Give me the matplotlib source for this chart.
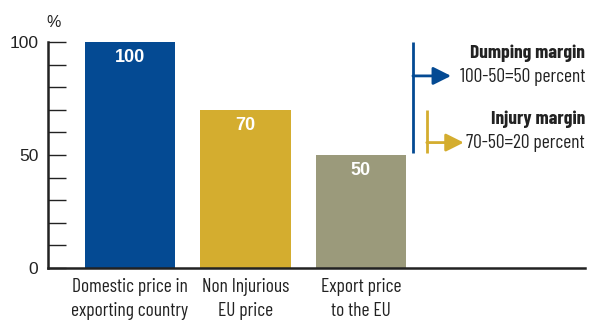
import matplotlib
matplotlib.use("Agg")
import matplotlib.pyplot as plt
from matplotlib.ticker import MultipleLocator

categories = ["Domestic price in\nexporting country", "Non Injurious\nEU price", "Export price\nto the EU"]
values = [100, 70, 50]
bar_labels = ["100", "70", "50"]
colors = ["#044a93", "#d4ad2f", "#9b9a7b"]
yticks = [0, 50, 100]
dumping_title = "Dumping margin"
dumping_text = "100-50=50 percent"
injury_title = "Injury margin"
injury_text = "70-50=20 percent"

narrow = ["Barlow Condensed", "Roboto Condensed", "DejaVu Sans"]
regular = ["Liberation Sans", "DejaVu Sans"]
ink = "#222222"

fig = plt.figure(figsize=(5.89, 3.2), dpi=100)
ax = fig.add_axes([48/589, 52/320, (585-48)/589, (268-42)/320])

x = list(range(len(values)))
ax.bar(x, values, width=0.78, color=colors, zorder=2)
for xi, v, lab in zip(x, values, bar_labels):
    ax.text(xi, v - 7, lab, ha="center", va="center", color="white",
            fontsize=13, fontweight="bold", family=regular)

ax.set_xlim(-0.71, 3.94)
ax.set_ylim(0, 100)
for s in ["top", "right"]:
    ax.spines[s].set_visible(False)
for s in ["left", "bottom"]:
    ax.spines[s].set_linewidth(1.8)
    ax.spines[s].set_color(ink)

ax.set_xticks(x)
ax.set_xticklabels(categories, family=narrow, fontsize=14, color=ink, linespacing=1.45)
ax.tick_params(axis="x", length=0, pad=7)
ax.set_yticks(yticks)
ax.set_yticklabels([str(t) for t in yticks], family=regular, fontsize=12.5, color=ink)
ax.yaxis.set_minor_locator(MultipleLocator(10))
ax.tick_params(axis="y", which="both", direction="in", length=13, width=1.0,
               color=ink, pad=7)
ax.text(-0.66, 108.5, "%", ha="center", va="center", fontsize=11.5, color=ink,
        family=regular, clip_on=False)

aprops = dict(arrowstyle="-|>,head_length=0.6,head_width=0.3", lw=2,
              shrinkA=0, shrinkB=0, mutation_scale=18)
# Dumping margin bracket
bx = 2.45
ax.plot([bx, bx], [values[0], values[2] + 1], color=colors[0], lw=2, solid_capstyle="butt")
ax.annotate("", xy=(2.78, 85), xytext=(bx, 85),
            arrowprops=dict(color=colors[0], **aprops))
# Injury margin bracket
gx = 2.57
ax.plot([gx, gx], [values[1], values[2] + 1], color=colors[1], lw=2, solid_capstyle="butt")
ax.annotate("", xy=(2.89, 55.5), xytext=(gx, 55.5),
            arrowprops=dict(color=colors[1], **aprops))

tx = 3.94
ax.text(tx, 95, dumping_title, ha="right", va="center", fontsize=14, fontweight="bold",
        family=narrow, color=ink)
ax.text(tx, 84.5, dumping_text, ha="right", va="center", fontsize=14,
        family=narrow, color=ink)
ax.text(tx, 66, injury_title, ha="right", va="center", fontsize=14, fontweight="bold",
        family=narrow, color=ink)
ax.text(tx, 55.5, injury_text, ha="right", va="center", fontsize=14,
        family=narrow, color=ink)

fig.savefig("out.png", dpi=100)
